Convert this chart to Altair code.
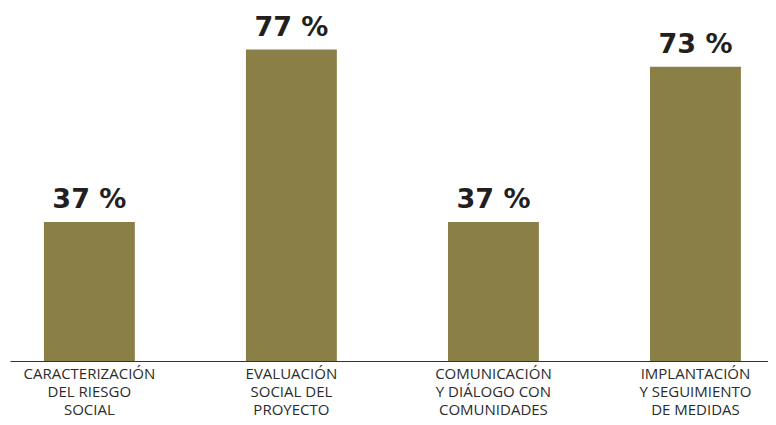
import altair as alt
import pandas as pd

categories = [
    "CARACTERIZACIÓN|DEL RIESGO|SOCIAL",
    "EVALUACIÓN|SOCIAL DEL|PROYECTO",
    "COMUNICACIÓN|Y DIÁLOGO CON|COMUNIDADES",
    "IMPLANTACIÓN|Y SEGUIMIENTO|DE MEDIDAS",
]
values = [37, 77, 37, 73]
labels = ["37 %", "77 %", "37 %", "73 %"]

df = pd.DataFrame({"cat": categories, "value": values, "label": labels})

base_val = 4.7
top_val = 86.66

x = alt.X(
    "cat:N",
    sort=categories,
    title=None,
    scale=alt.Scale(paddingInner=0.55, paddingOuter=0.151, align=0.556),
    axis=alt.Axis(
        labelExpr="split(datum.label, '|')",
        labelAngle=0,
        labelFont="Open Sans",
        labelFontSize=15,
        labelColor="#2b2b2b",
        labelLineHeight=18,
        labelPadding=5,
        labelLimit=0,
        ticks=False,
        domainColor="#333333",
        domainWidth=1,
    ),
)
y = alt.Y(
    "value:Q",
    scale=alt.Scale(domain=[base_val, top_val], zero=False, nice=False),
    axis=None,
)

bars = alt.Chart(df).mark_bar(color="#8B7F48").encode(
    x=x, y=y, y2=alt.datum(base_val)
)
text = alt.Chart(df).mark_text(
    font="DejaVu Sans", fontWeight="bold", fontSize=27, baseline="bottom",
    dy=-8, color="#231f20"
).encode(x=alt.X("cat:N", sort=categories), y=y, text="label:N")

chart = (bars + text).properties(
    width=758,
    height=353,
    autosize=alt.AutoSizeParams(type="none"),
    padding={"left": 2, "top": 0, "right": 0, "bottom": 56},
).configure_view(stroke=None)

chart.save("out.html", embed_options={"renderer": "svg", "actions": False})
